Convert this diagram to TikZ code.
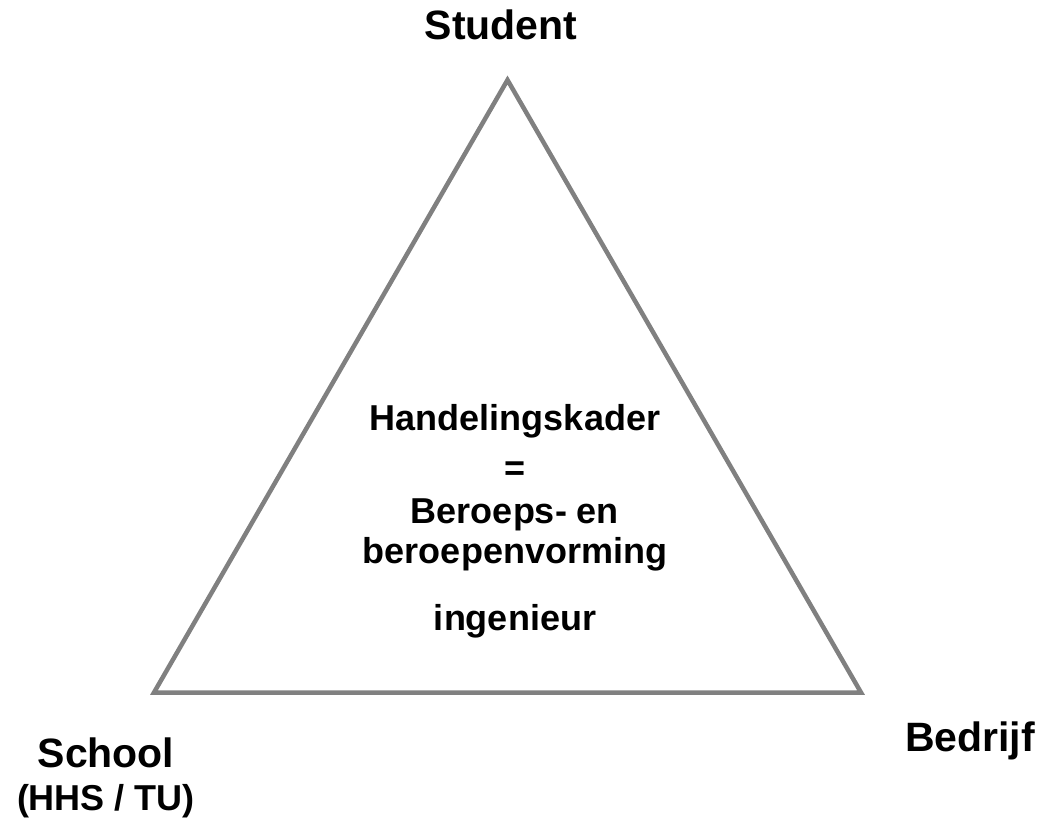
\documentclass[tikz,border=0pt]{standalone}
\usepackage{fontspec}
\setmainfont{Liberation Sans}
\begin{document}
\begin{tikzpicture}[x=1pt,y=-1pt,
  big/.style={font=\fontsize{41}{49}\selectfont\bfseries, inner sep=0pt, anchor=base},
  mid/.style={font=\fontsize{36}{43}\selectfont\bfseries, inner sep=0pt, anchor=base},
  edge/.style={draw=black!50, line width=4.5pt, line join=miter}]
\useasboundingbox (0,0) rectangle (1039,820);
\coordinate (top) at (507.5,80);
\coordinate (bl) at (154,692.5);
\coordinate (br) at (861,692.5);
\draw[edge] (top) -- (bl) -- (br) -- cycle;
\node[big] (student) at (501,39) {Student};
\node[big] (school) at (106,767) {School};
\node[mid] (hhs) at (106,810) {(HHS / TU)};
\node[big] (bedrijf) at (970,751) {Bedrijf};
\node[mid] (l1) at (515,430) {Handelingskader};
\node[mid] (l2) at (515,480) {=};
\node[mid] (l3) at (515,523) {Beroeps- en};
\node[mid] (l4) at (515,563) {beroepenvorming};
\node[mid] (l5) at (515,630) {ingenieur};
\end{tikzpicture}
\end{document}
